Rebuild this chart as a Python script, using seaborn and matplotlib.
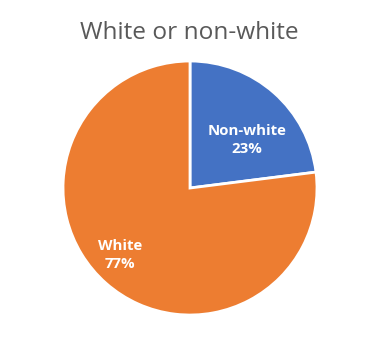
import matplotlib
matplotlib.use("Agg")
import matplotlib.pyplot as plt
import seaborn as sns

categories = ["Non-white", "White"]
values = [23, 77]
colors = ["#4472C4", "#ED7D31"]
title = "White or non-white"

sns.set_theme(style="white")
plt.rcParams['font.family'] = ['Open Sans', 'DejaVu Sans']

fig = plt.figure(figsize=(3.88, 3.42), dpi=100)
fig.patch.set_facecolor("white")
ax = fig.add_axes([0.1624, 0.0789, 0.6546, 0.7427])

wedges, texts = ax.pie(values, colors=colors, startangle=90, counterclock=False,
                       wedgeprops=dict(edgecolor="white", linewidth=2),
                       labels=[f"{c}\n{v}%" for c, v in zip(categories, values)],
                       labeldistance=0.6,
                       textprops=dict(color="white", fontsize=10.8, fontweight="bold",
                                      ha="center", va="center", linespacing=1.4))
label_pos = [(0.449, 0.378), (-0.551, -0.528)]
for t, p in zip(texts, label_pos):
    t.set_position(p)
    t.set_ha("center")
ax.set_xlim(-1, 1)
ax.set_ylim(-1, 1)
ax.set_aspect("auto")

fig.text(189/388, 1 - 33/342, title, ha="center", va="center", fontsize=17.6, color="#595959")

fig.savefig("out.png", dpi=100)
